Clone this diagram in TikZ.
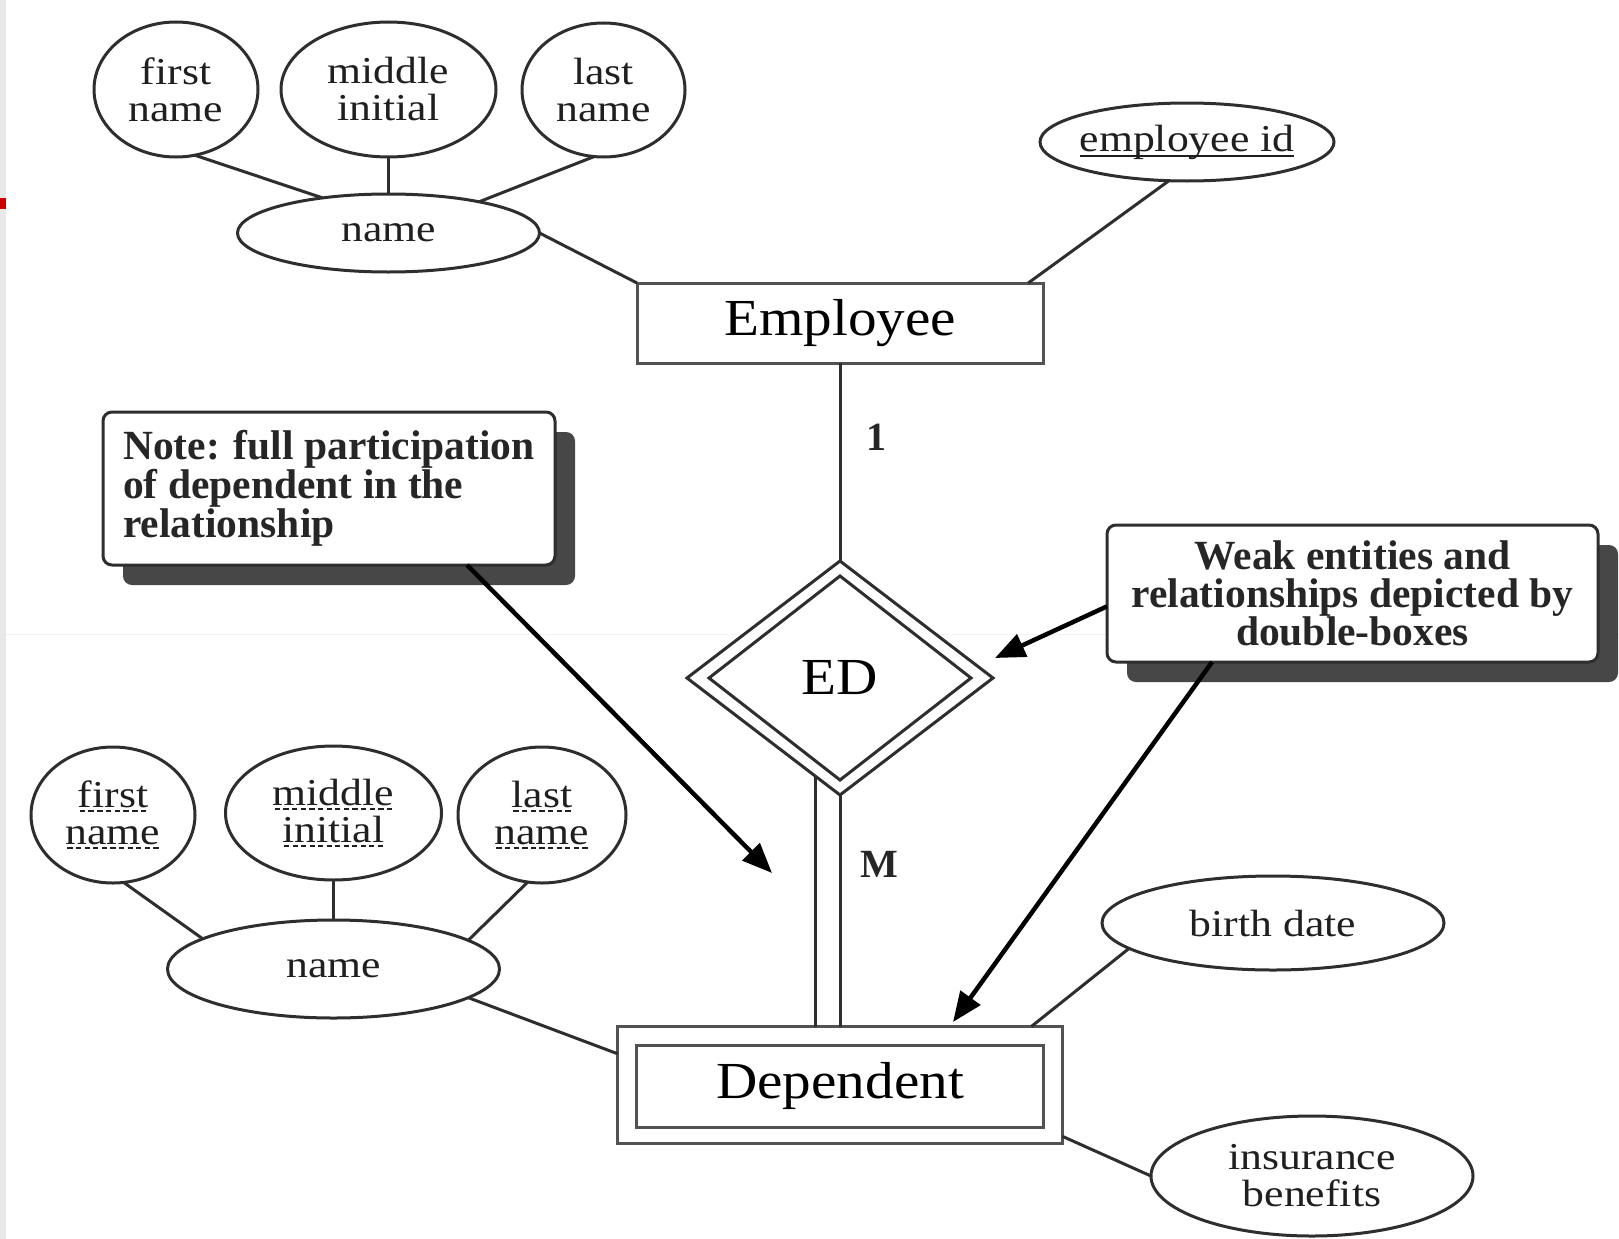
\documentclass[tikz,border=0pt]{standalone}
\usepackage{fontspec}
\setmainfont{Liberation Serif}
\newfontfamily\erfont[FakeStretch=1.1]{Liberation Serif}
\newfontfamily\attrfont[FakeStretch=1.15]{Liberation Serif}
\usetikzlibrary{shapes.geometric,arrows.meta,calc,shadows}

% solid underline (key attribute) and dashed underline (partial key)
\newcommand\solidul[1]{\setbox0\hbox{#1}\rlap{\rule[-0.16em]{\wd0}{0.06em}}\box0}
\newcommand\dashul[1]{\setbox0\hbox{#1}\rlap{\raisebox{-0.13em}{\hbox to\wd0{\xleaders\hbox to 0.22em{\hss\rule{0.14em}{0.06em}\hss}\hfill}}}\box0}

\begin{document}
\begin{tikzpicture}[x=1pt, y=-1pt,
  ln/.style={line width=3pt, draw=black!82},
  attr/.style={ellipse, ln, fill=white, inner sep=0pt, outer sep=0pt, align=center,
    font=\attrfont\fontsize{38}{37}\selectfont, text=black!88},
  entitybox/.style={rectangle, ln, draw=black!68, fill=white, inner sep=0pt, outer sep=0pt,
    font=\erfont\fontsize{52}{52}\selectfont},
  notebox/.style={rectangle, rounded corners=9pt, ln, fill=white, inner sep=0pt, outer sep=0pt,
    font=\bfseries\fontsize{41.5}{37.5}\selectfont, text=black!85,
    drop shadow={shadow xshift=20pt, shadow yshift=-20pt, fill=black!72, opacity=1}},
  pointer/.style={line width=4.5pt, draw=black, -{Triangle[length=30pt,width=24pt]}},
  card/.style={font=\bfseries\fontsize{40}{40}\selectfont, text=black!85}]

% page
\fill[white] (0,0) rectangle (1619,1239);
\useasboundingbox (0,0) rectangle (1619,1239);
\fill[black!9] (0,0) rectangle (6,1239);
\fill[red!80!black] (0,198) rectangle (6,209);
\draw[black!5, line width=1pt] (6,634) -- (1619,634);

% Employee and its attributes
\node[attr, minimum width=164, minimum height=135] (fn1) at (176,89.5) {first\\name};
\node[attr, minimum width=215, minimum height=135] (mi1) at (388.5,89.5) {middle\\initial};
\node[attr, minimum width=163, minimum height=134] (ln1) at (603.5,90) {last\\name};
\node[attr, minimum width=302, minimum height=78] (nm1) at (388.5,233) {name};
\node[attr, minimum width=294, minimum height=78, inner sep=-12pt] (eid) at (1187,142) {\solidul{employee id}};
\node[entitybox, minimum width=406, minimum height=80] (emp) at (840,323) {Employee};

% identifying relationship (double diamond)
\node[diamond, ln, fill=white, minimum width=306, minimum height=234, inner sep=0pt, outer sep=0pt] (ed) at (840,678) {};
\node[diamond, ln, minimum width=262, minimum height=204, inner sep=0pt, outer sep=0pt,
  font=\erfont\fontsize{52}{52}\selectfont] (edin) at (ed.center) {ED};

% weak entity (double box)
\node[rectangle, ln, draw=black!68, fill=white, minimum width=445, minimum height=117,
  inner sep=0pt, outer sep=0pt] (dep) at (840,1085) {};
\node[entitybox, minimum width=407, minimum height=82] (depin) at (840,1086) {Dependent};

% Dependent attributes
\node[attr, minimum width=164, minimum height=136] (fn2) at (113,815) {\dashul{first}\\\dashul{name}};
\node[attr, minimum width=216, minimum height=134] (mi2) at (333.5,813) {\dashul{middle}\\\dashul{initial}};
\node[attr, minimum width=168, minimum height=136] (ln2) at (542,815) {\dashul{last}\\\dashul{name}};
\node[attr, minimum width=332, minimum height=98] (nm2) at (333.5,969) {name};
\node[attr, minimum width=342, minimum height=94] (bd) at (1273,923) {birth date};
\node[attr, minimum width=322, minimum height=120] (ins) at (1312,1176) {insurance\\benefits};

% callouts
\node[notebox, align=left, minimum width=452, minimum height=153] (note) at (329,488.5)
  {Note: full participation\\of dependent in the\\relationship};
\node[notebox, align=center, minimum width=491, minimum height=137] (weak) at (1352.5,593.5)
  {Weak entities and\\relationships depicted by\\double-boxes};

% cardinalities
\node[card] (one) at (876,437) {1};
\node[card] (many) at (879,864) {M};

% connectors
\draw[ln] (fn1.-74) -- (nm1.152);
\draw[ln] (mi1.south) -- (nm1.north);
\draw[ln] (ln1.-98) -- (nm1.19);
\draw[ln] (nm1.east) -- (emp.north west);
\draw[ln] (eid.-115) -- (emp.12);
\draw[ln] (emp.south) -- (ed.north);
\draw[ln] (ed.-104.3) -- (ed.-104.3 |- dep.north);
\draw[ln] (ed.south) -- (ed.south |- dep.north);
\draw[ln] (fn2.-81) -- (nm2.167);
\draw[ln] (mi2.south) -- (nm2.north);
\draw[ln] (ln2.-102) -- (nm2.12);
\draw[ln] (nm2.-12.6) -- (dep.172.9);
\draw[ln] (bd.-170.7) -- (dep.17.4);
\draw[ln] (dep.-13.9) -- (ins.west);

% callout pointers
\coordinate (tipA) at (772,873);
\coordinate (tipB) at (995,658);
\coordinate (tipC) at (953,1022);
\draw[pointer] (note.-29.7) -- (tipA);
\draw[pointer] (weak.183.6) -- (tipB);
\draw[pointer] (weak.206.2) -- (tipC);
\end{tikzpicture}
\end{document}
